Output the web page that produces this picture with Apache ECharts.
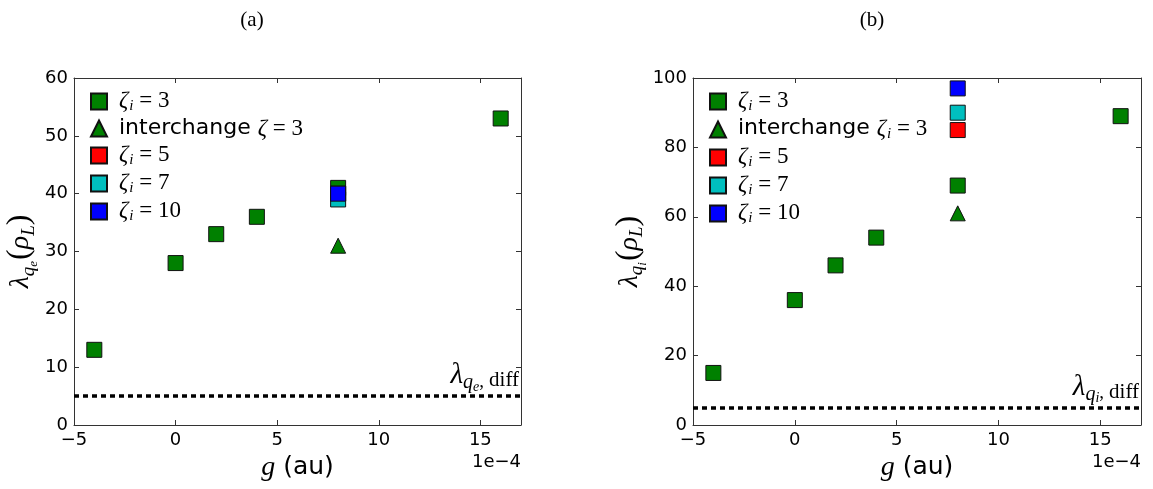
<!DOCTYPE html>
<html><head><meta charset="utf-8">
<script src="https://cdn.jsdelivr.net/npm/echarts@6/dist/echarts.min.js"></script>
<style>html,body{margin:0;padding:0;background:#fff}#c{width:1153px;height:489px}</style>
</head><body><div id="c"></div>
<script>
// ---- data ----
const gSq = [-4, 0, 2, 4, 8, 16];
const lamESq = [13, 28, 33, 36, 41, 53];
const lamISq = [15, 36, 46, 54, 69, 89];
const gExtra = [8];
const lamEInter = [31], lamIInter = [61];
const lamE5 = [40], lamI5 = [85];
const lamE7 = [39], lamI7 = [90];
const lamE10 = [40], lamI10 = [97];
const diffLevel = 5;
const xTicks = [-5, 0, 5, 10, 15];
const yTicksE = [0, 10, 20, 30, 40, 50, 60];
const yTicksI = [0, 20, 40, 60, 80, 100];
const panelTitles = ['(a)', '(b)'];
const xRange = [-5, 17];

// ---- layout ----
const grids = [
  {left: 74, top: 78, width: 447, height: 347},
  {left: 693, top: 78, width: 448, height: 347}
];
const FRAME = '#333';
const SERIF = 'Liberation Serif';
const SANS = 'DejaVu Sans';

const legRich = {
  z: {fontFamily: SERIF, fontStyle: 'italic', fontSize: 23, verticalAlign: 'top', color: '#000'},
  s: {fontFamily: SERIF, fontStyle: 'italic', fontSize: 15, verticalAlign: 'top', padding: [10, 0, 0, 1], color: '#000'},
  n: {fontFamily: SERIF, fontSize: 23, verticalAlign: 'top', color: '#000'},
  t: {fontFamily: SANS, fontSize: 22, verticalAlign: 'top', color: '#000'}
};
const legendLabels = {
  a3: '{z|ζ}{s|i}{n| = 3}', aI: '{t|interchange }{z|ζ}{n| = 3}', a5: '{z|ζ}{s|i}{n| = 5}', a7: '{z|ζ}{s|i}{n| = 7}', a10: '{z|ζ}{s|i}{n| = 10}',
  b3: '{z|ζ}{s|i}{n| = 3}', bI: '{t|interchange }{z|ζ}{s|i}{n| = 3}', b5: '{z|ζ}{s|i}{n| = 5}', b7: '{z|ζ}{s|i}{n| = 7}', b10: '{z|ζ}{s|i}{n| = 10}'
};

const fmt = v => xTicks.includes(v) ? (v < 0 ? '\u2212' + (-v) : String(v)) : '';

function xAx(gi, pos) {
  return {
    gridIndex: gi, type: 'value', min: xRange[0], max: xRange[1], interval: 5, position: pos,
    axisLine: {show: true, onZero: false, lineStyle: {color: FRAME, width: 1}},
    axisTick: {show: true, inside: true, length: 5, lineStyle: {color: FRAME}},
    axisLabel: {show: pos === 'bottom', margin: 6, fontFamily: SANS, fontSize: 18, color: '#000', formatter: fmt, showMaxLabel: false},
    splitLine: {show: false},
    name: pos === 'bottom' ? '{g|g}{a| (au)}' : '',
    nameLocation: 'middle', nameGap: 28,
    nameTextStyle: {rich: {g: {fontFamily: SERIF, fontStyle: 'italic', fontSize: 28, color: '#000'}, a: {fontFamily: SANS, fontSize: 25, color: '#000'}}}
  };
}
function yAx(gi, pos, ticks, sub) {
  const step = ticks[1] - ticks[0];
  return {
    gridIndex: gi, type: 'value', min: ticks[0], max: ticks[ticks.length - 1], interval: step, position: pos,
    axisLine: {show: true, onZero: false, lineStyle: {color: FRAME, width: 1}},
    axisTick: {show: true, inside: true, length: 5, lineStyle: {color: FRAME}},
    axisLabel: {show: pos === 'left', margin: 6, fontFamily: SANS, fontSize: 18, color: '#000'},
    splitLine: {show: false},
    name: pos === 'left' ? '{l|λ}{q|q}{e|' + sub + '}{p|(}{r|ρ}{L|L}{p|)}' : '',
    nameLocation: 'middle', nameGap: 34, nameRotate: 90,
    nameTextStyle: {rich: {
      l: {fontFamily: SERIF, fontStyle: 'italic', fontSize: 28, verticalAlign: 'top', color: '#000'},
      q: {fontFamily: SERIF, fontStyle: 'italic', fontSize: 19, verticalAlign: 'top', padding: [12, 0, 0, 0], color: '#000'},
      e: {fontFamily: SERIF, fontStyle: 'italic', fontSize: 13, verticalAlign: 'top', padding: [20, 1, 0, 0], color: '#000'},
      p: {fontFamily: SERIF, fontSize: 32, verticalAlign: 'top', padding: [-3, 0, 0, 0], color: '#000'},
      r: {fontFamily: SERIF, fontStyle: 'italic', fontSize: 28, verticalAlign: 'top', color: '#000'},
      L: {fontFamily: SERIF, fontStyle: 'italic', fontSize: 19, verticalAlign: 'top', padding: [12, 0, 0, 0], color: '#000'}
    }}
  };
}

function sc(name, gi, xs, ys, color, symbol) {
  return {
    name, type: 'scatter', xAxisIndex: gi * 2, yAxisIndex: gi * 2,
    data: xs.map((x, i) => [x, ys[i]]),
    symbol, symbolSize: 15,
    itemStyle: {color, borderColor: '#111', borderWidth: 1, opacity: 1},
    emphasis: {disabled: true}
  };
}
function diffLine(sub) {
  return {
    silent: true, symbol: ['none', 'none'], animation: false,
    data: [{yAxis: diffLevel}],
    lineStyle: {color: '#000', type: [5, 4], width: 3.5},
    label: {
      show: true, position: 'insideEndTop', distance: 2,
      formatter: '{l|λ}{q|q}{e|' + sub + '}{c|,}{d|diff}',
      rich: {
        l: {fontFamily: SERIF, fontStyle: 'italic', fontSize: 29, verticalAlign: 'top', color: '#000'},
        q: {fontFamily: SERIF, fontStyle: 'italic', fontSize: 20, verticalAlign: 'top', padding: [12, 0, 0, 0], color: '#000'},
        e: {fontFamily: SERIF, fontStyle: 'italic', fontSize: 14, verticalAlign: 'top', padding: [19, 0, 0, 0], color: '#000'},
        c: {fontFamily: SERIF, fontSize: 19, verticalAlign: 'top', padding: [11, 5, 0, 0], color: '#000'},
        d: {fontFamily: SERIF, fontSize: 21, verticalAlign: 'top', padding: [9, 0, 0, 0], color: '#000'}
      }
    }
  };
}

const GREEN = '#008000', RED = '#ff0000', CYAN = '#00bfbf', BLUE = '#0000ff';
const series = [];
const pA = [['a3', gSq, lamESq, GREEN, 'rect'], ['aI', gExtra, lamEInter, GREEN, 'triangle'], ['a5', gExtra, lamE5, RED, 'rect'], ['a7', gExtra, lamE7, CYAN, 'rect'], ['a10', gExtra, lamE10, BLUE, 'rect']];
const pB = [['b3', gSq, lamISq, GREEN, 'rect'], ['bI', gExtra, lamIInter, GREEN, 'triangle'], ['b5', gExtra, lamI5, RED, 'rect'], ['b7', gExtra, lamI7, CYAN, 'rect'], ['b10', gExtra, lamI10, BLUE, 'rect']];
pA.forEach(p => series.push(sc(p[0], 0, p[1], p[2], p[3], p[4])));
pB.forEach(p => series.push(sc(p[0], 1, p[1], p[2], p[3], p[4])));
series[0].markLine = diffLine('e');
series[5].markLine = diffLine('i');

function legend(gi, names) {
  return {
    data: names, orient: 'vertical', left: grids[gi].left + 16, top: 89, padding: 0,
    itemWidth: 16, itemHeight: 16, itemGap: 3, selectedMode: false,
    formatter: n => legendLabels[n],
    textStyle: {rich: legRich, padding: [0, 0, 0, 7]}
  };
}

const chart = echarts.init(document.getElementById('c'), null, {renderer: 'canvas'});
chart.setOption({
  animation: false,
  backgroundColor: '#fff',
  grid: grids.map(g => Object.assign({containLabel: false}, g)),
  xAxis: [xAx(0, 'bottom'), xAx(0, 'top'), xAx(1, 'bottom'), xAx(1, 'top')],
  yAxis: [yAx(0, 'left', yTicksE, 'e'), yAx(0, 'right', yTicksE, 'e'), yAx(1, 'left', yTicksI, 'i'), yAx(1, 'right', yTicksI, 'i')],
  legend: [legend(0, pA.map(p => p[0])), legend(1, pB.map(p => p[0]))],
  series,
  graphic: [
    {type: 'text', x: 252, y: 20, style: {text: panelTitles[0], align: 'center', verticalAlign: 'middle', font: '21px "Liberation Serif"', fill: '#000'}},
    {type: 'text', x: 872, y: 20, style: {text: panelTitles[1], align: 'center', verticalAlign: 'middle', font: '21px "Liberation Serif"', fill: '#000'}},
    {type: 'text', x: grids[0].left + grids[0].width, y: 462, style: {text: '1e\u22124', align: 'right', verticalAlign: 'middle', font: '18px "DejaVu Sans"', fill: '#000'}},
    {type: 'text', x: grids[1].left + grids[1].width, y: 462, style: {text: '1e\u22124', align: 'right', verticalAlign: 'middle', font: '18px "DejaVu Sans"', fill: '#000'}}
  ]
});
</script>
</body></html>
